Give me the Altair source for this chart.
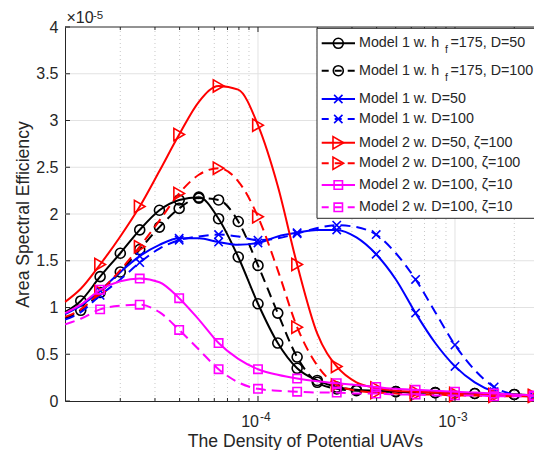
import altair as alt
import pandas as pd

# ---------------- data (values in units of 1e-5) ----------------
X = [1.05e-5, 1.26e-5, 1.58e-5, 2.0e-5, 2.51e-5, 3.16e-5, 3.98e-5, 5.01e-5, 6.31e-5, 7.94e-5,
     1.0e-4, 1.26e-4, 1.58e-4, 2.0e-4, 2.51e-4, 3.16e-4, 3.98e-4, 5.01e-4, 6.31e-4, 7.94e-4,
     1.0e-3, 1.26e-3, 1.58e-3, 2.0e-3, 2.51e-3]

M1_HF_D50 = [0.95, 1.07, 1.33, 1.58, 1.83, 2.04, 2.15, 2.18, 1.95, 1.54, 1.04, 0.62, 0.35, 0.22,
             0.15, 0.12, 0.11, 0.10, 0.09, 0.09, 0.08, 0.08, 0.07, 0.07, 0.06]
M1_HF_D100 = [0.88, 0.97, 1.16, 1.38, 1.62, 1.86, 2.06, 2.17, 2.15, 1.92, 1.45, 0.94, 0.47, 0.20,
              0.13, 0.11, 0.10, 0.10, 0.09, 0.09, 0.08, 0.08, 0.07, 0.07, 0.06]
M1_D50 = [0.93, 1.02, 1.18, 1.38, 1.55, 1.67, 1.74, 1.74, 1.70, 1.67, 1.69, 1.76, 1.80, 1.83,
          1.83, 1.75, 1.57, 1.30, 0.94, 0.62, 0.37, 0.20, 0.10, 0.06, 0.05]
M1_D100 = [0.87, 0.95, 1.13, 1.30, 1.48, 1.63, 1.72, 1.76, 1.78, 1.76, 1.72, 1.74, 1.79, 1.85,
           1.88, 1.86, 1.78, 1.58, 1.30, 0.95, 0.60, 0.33, 0.15, 0.07, 0.05]
M2_D50_Z100 = [1.06, 1.20, 1.46, 1.76, 2.08, 2.46, 2.85, 3.20, 3.37, 3.33, 2.95, 2.30, 1.46, 0.72,
               0.37, 0.20, 0.14, 0.11, 0.10, 0.09, 0.08, 0.07, 0.07, 0.06, 0.06]
M2_D100_Z100 = [0.90, 0.98, 1.17, 1.40, 1.65, 1.93, 2.22, 2.42, 2.49, 2.35, 1.97, 1.40, 0.79, 0.38,
                0.17, 0.11, 0.09, 0.08, 0.07, 0.07, 0.06, 0.06, 0.05, 0.05, 0.05]
M2_D100_Z10 = [0.94, 1.03, 1.19, 1.28, 1.31, 1.27, 1.10, 0.87, 0.62, 0.45, 0.34, 0.28, 0.24, 0.21,
               0.19, 0.17, 0.15, 0.13, 0.12, 0.11, 0.10, 0.09, 0.08, 0.07, 0.06]
M2_D100_Z10B = [0.82, 0.88, 0.98, 1.02, 1.03, 0.95, 0.76, 0.55, 0.34, 0.20, 0.13, 0.11, 0.10, 0.09,
                0.09, 0.08, 0.08, 0.07, 0.07, 0.06, 0.06, 0.06, 0.05, 0.05, 0.05]

# marker flags (1 = marker drawn at that point)
MK_BLACK = [0, 1, 1, 1, 1, 1, 1, 1, 1, 1, 1, 1, 1, 1, 1, 1, 0, 1, 0, 1, 0, 1, 0, 1, 0]
MK_OTHER = [0, 0, 1, 0, 1, 0, 1, 0, 1, 0, 1, 0, 1, 0, 1, 0, 1, 0, 1, 0, 1, 0, 1, 0, 1]

LABELS = [
    ("Model 1 w. h", "f", "=175, D=50"),
    ("Model 1 w. h", "f", "=175, D=100"),
    ("Model 1 w. D=50", "", ""),
    ("Model 1 w. D=100", "", ""),
    ("Model 2 w. D=50, \u03b6=100", "", ""),
    ("Model 2 w. D=100, \u03b6=100", "", ""),
    ("Model 2 w. D=100, \u03b6=10", "", ""),
    ("Model 2 w. D=100, \u03b6=10", "", ""),
]
VALUES = [M1_HF_D50, M1_HF_D100, M1_D50, M1_D100, M2_D50_Z100, M2_D100_Z100, M2_D100_Z10, M2_D100_Z10B]
MARKS = [MK_BLACK, MK_BLACK, MK_OTHER, MK_OTHER, MK_OTHER, MK_OTHER, MK_OTHER, MK_OTHER]
COLORS = ["#000000", "#000000", "#0000ff", "#0000ff", "#ff0000", "#ff0000", "#ff00ff", "#ff00ff"]
DASHED = [False, True, False, True, False, True, False, True]
XPATH = "M-1,-1L1,1M-1,1L1,-1"
SHAPES = ["circle", "circle", XPATH, XPATH, "triangle-right", "triangle-right", "square", "square"]
SIZES = [100, 100, 70, 70, 150, 150, 70, 70]

Y_TICKS = [0, 0.5, 1, 1.5, 2, 2.5, 3, 3.5, 4]
X_MAJOR = [1e-4, 1e-3]
X_MINOR = [2e-5, 3e-5, 4e-5, 5e-5, 6e-5, 7e-5, 8e-5, 9e-5,
           2e-4, 3e-4, 4e-4, 5e-4, 6e-4, 7e-4, 8e-4, 9e-4, 2e-3]
X_LABEL_EXP = ["-4", "-3"]

# ---------------- styling ----------------
W, H = 469, 374
XDOM = [1.048e-5, 2.518e-3]
FONT = "Liberation Sans"
TXT = "#262626"
DASH = [10, 6]
LEG_FS = 14.3


def xenc():
    return alt.X("x:Q", scale=alt.Scale(type="log", domain=XDOM, nice=False),
                 axis=alt.Axis(labels=False, ticks=False, grid=False, domainColor=TXT, domainWidth=1,
                               title="The Density of Potential UAVs", titleFont=FONT,
                               titleFontSize=17.6, titleFontWeight="normal", titleColor=TXT,
                               titleX=240, titleY=45.5, titleBaseline="alphabetic",
                               titleAlign="center"))


def yenc():
    return alt.Y("y:Q", scale=alt.Scale(domain=[0, 4], nice=False, zero=False),
                 axis=alt.Axis(values=Y_TICKS, labelExpr="'' + datum.value", ticks=False,
                               grid=False, domainColor=TXT, domainWidth=1, labelFont=FONT,
                               labelFontSize=16, labelColor=TXT, labelPadding=7,
                               title="Area Spectral Efficiency", titleFont=FONT,
                               titleFontSize=17.6, titleFontWeight="normal", titleColor=TXT,
                               titleX=-37, titleY=187, titleBaseline="alphabetic",
                               titleAlign="center", titleAngle=270))


one = pd.DataFrame({"a": [0]})
layers = []

# grid
layers.append(alt.Chart(pd.DataFrame({"y": Y_TICKS[1:-1]})).mark_rule(color="#e2e2e2", strokeWidth=1)
              .encode(y=yenc(), x=alt.value(0), x2=alt.value(W)))
layers.append(alt.Chart(pd.DataFrame({"x": X_MINOR})).mark_rule(color="#c8c8c8", strokeWidth=1, strokeDash=[1, 3])
              .encode(x=xenc(), y=alt.value(0), y2=alt.value(H)))
layers.append(alt.Chart(pd.DataFrame({"x": X_MAJOR})).mark_rule(color="#e2e2e2", strokeWidth=1)
              .encode(x=xenc(), y=alt.value(0), y2=alt.value(H)))

# data series
for vals, mk, col, dsh, shp, sz in zip(VALUES, MARKS, COLORS, DASHED, SHAPES, SIZES):
    df = pd.DataFrame({"x": X, "y": vals, "m": mk})
    lkw = dict(color=col, strokeWidth=2, interpolate="monotone")
    if dsh:
        lkw["strokeDash"] = DASH
    layers.append(alt.Chart(df).mark_line(**lkw).encode(x=xenc(), y=yenc()))
    layers.append(alt.Chart(df).transform_filter("datum.m == 1")
                  .mark_point(shape=shp, size=sz, color=col, filled=False, strokeWidth=1.6, opacity=1)
                  .encode(x=xenc(), y=yenc()))

# ticks (inward)
layers.append(alt.Chart(pd.DataFrame({"y": Y_TICKS})).mark_rule(color=TXT, strokeWidth=1)
              .encode(y=yenc(), x=alt.value(0), x2=alt.value(5)))
for y0, y1 in [(H, H - 5), (0, 5)]:
    layers.append(alt.Chart(pd.DataFrame({"x": X_MAJOR})).mark_rule(color=TXT, strokeWidth=1)
                  .encode(x=xenc(), y=alt.value(y0), y2=alt.value(y1)))
for y0, y1 in [(H, H - 3), (0, 3)]:
    layers.append(alt.Chart(pd.DataFrame({"x": X_MINOR})).mark_rule(color=TXT, strokeWidth=1)
                  .encode(x=xenc(), y=alt.value(y0), y2=alt.value(y1)))
# top frame
layers.append(alt.Chart(one).mark_rule(color=TXT, strokeWidth=1)
              .encode(y=alt.value(0), x=alt.value(0), x2=alt.value(W)))

# x tick labels 10^-4, 10^-3
lab = pd.DataFrame({"x": X_MAJOR, "base": ["10", "10"], "exp": X_LABEL_EXP})
layers.append(alt.Chart(lab).mark_text(font=FONT, fontSize=16, color=TXT, align="right",
                                       baseline="alphabetic", dx=1)
              .encode(x=xenc(), y=alt.value(H + 25.5), text="base:N"))
layers.append(alt.Chart(lab).mark_text(font=FONT, fontSize=12, color=TXT, align="left",
                                       baseline="alphabetic", dx=2)
              .encode(x=xenc(), y=alt.value(H + 19.5), text="exp:N"))

# x10^-5 multiplier
layers.append(alt.Chart(one).mark_text(font=FONT, fontSize=16, color=TXT, align="left",
                                       baseline="alphabetic", text="\u00d710")
              .encode(x=alt.value(1.5), y=alt.value(-4.3)))
layers.append(alt.Chart(one).mark_text(font=FONT, fontSize=11.5, color=TXT, align="left",
                                       baseline="alphabetic", text="-5")
              .encode(x=alt.value(28), y=alt.value(-8.3)))

# legend
LEG_X0 = 252
layers.append(alt.Chart(one).mark_rect(fill="white", stroke=TXT, strokeWidth=1)
              .encode(x=alt.value(LEG_X0), x2=alt.value(W + 10), y=alt.value(1.3), y2=alt.value(191.3)))
ROW_Y = [16.3, 43.7, 72, 92, 115.7, 136.3, 158, 180.3]
for i in range(8):
    yy = ROW_Y[i]
    rk = dict(color=COLORS[i], strokeWidth=2)
    if DASHED[i]:
        rk["strokeDash"] = [7, 6]
    layers.append(alt.Chart(one).mark_rule(**rk)
                  .encode(x=alt.value(256.7), x2=alt.value(290), y=alt.value(yy)))
    layers.append(alt.Chart(one).mark_point(shape=SHAPES[i], size=SIZES[i], color=COLORS[i],
                                            filled=False, strokeWidth=1.6, opacity=1)
                  .encode(x=alt.value(273.3), y=alt.value(yy)))
    main, sub, rest = LABELS[i]
    layers.append(alt.Chart(one).mark_text(font=FONT, fontSize=LEG_FS, color=TXT, align="left",
                                           baseline="middle", text=main)
                  .encode(x=alt.value(294), y=alt.value(yy)))
    if sub:
        layers.append(alt.Chart(one).mark_text(font=FONT, fontSize=10.5, color=TXT, align="left",
                                               baseline="middle", text=sub)
                      .encode(x=alt.value(380), y=alt.value(yy + 7)))
        layers.append(alt.Chart(one).mark_text(font=FONT, fontSize=LEG_FS, color=TXT, align="left",
                                               baseline="middle", text=rest)
                      .encode(x=alt.value(385.5), y=alt.value(yy)))

chart = (alt.layer(*layers)
         .properties(width=W, height=H,
                     padding={"left": 57, "top": 19, "right": 0, "bottom": 49},
                     autosize=alt.AutoSizeParams(type="none"),
                     background="white")
         .configure_view(stroke=None))

chart.save("out.html", embed_options={"renderer": "svg", "actions": False})
